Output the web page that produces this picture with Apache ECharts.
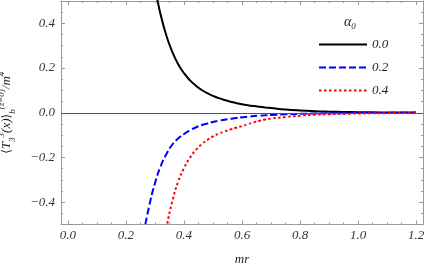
<!DOCTYPE html>
<html><head><meta charset="utf-8">
<script src="https://cdn.jsdelivr.net/npm/echarts@6/dist/echarts.min.js"></script>
<style>html,body{margin:0;padding:0;background:#fff}#c{width:427px;height:268px}</style>
</head><body><div id="c"></div>
<script>
// x positions (mr) and values
const xBlack = [0.28,0.30,0.32,0.34,0.36,0.38,0.40,0.42,0.44,0.46,0.48,0.50,0.52,0.54,0.56,0.58,0.60,0.62,0.64,0.66,0.68,0.70,0.75,0.80,0.85,0.90,0.95,1.0,1.05,1.1,1.15,1.2];
const yBlack = [0.73,0.561,0.436,0.342,0.271,0.217,0.177,0.146,0.122,0.103,0.0879,0.0755,0.0652,0.0567,0.0495,0.0434,0.0381,0.0337,0.0299,0.0266,0.0237,0.0211,0.0145,0.0100,0.0070,0.0050,0.0035,0.0025,0.0018,0.0013,0.0009,0.0007];
const xBlue = [0.24,0.26,0.28,0.30,0.32,0.34,0.36,0.38,0.40,0.42,0.44,0.46,0.48,0.50,0.52,0.54,0.56,0.58,0.60,0.62,0.64,0.66,0.68,0.70,0.75,0.80,0.85,0.90,0.95,1.0,1.05,1.1,1.15,1.2];
const yBlue = [-0.72,-0.55,-0.418,-0.315,-0.238,-0.183,-0.142,-0.115,-0.095,-0.079,-0.066,-0.056,-0.048,-0.041,-0.036,-0.031,-0.027,-0.023,-0.020,-0.0175,-0.015,-0.013,-0.0115,-0.010,-0.007,-0.005,-0.0035,-0.0025,-0.0018,-0.0012,-0.0009,-0.0006,-0.0004,-0.0003];
const xRed = [0.30,0.32,0.34,0.36,0.38,0.40,0.42,0.44,0.46,0.48,0.50,0.52,0.54,0.56,0.58,0.60,0.62,0.64,0.66,0.68,0.70,0.75,0.80,0.85,0.90,0.95,1.0,1.05,1.1,1.15,1.2];
const yRed = [-0.85,-0.662,-0.512,-0.395,-0.308,-0.248,-0.202,-0.168,-0.142,-0.122,-0.106,-0.094,-0.084,-0.075,-0.067,-0.060,-0.052,-0.043,-0.036,-0.030,-0.026,-0.019,-0.013,-0.009,-0.0065,-0.0047,-0.0033,-0.0024,-0.0017,-0.0012,-0.0009];
const seriesNames = ['0.0','0.2','0.4'];
const xMajor = [0,0.2,0.4,0.6,0.8,1.0,1.2];
const xMinor = [0.05,0.1,0.15,0.25,0.3,0.35,0.45,0.5,0.55,0.65,0.7,0.75,0.85,0.9,0.95,1.05,1.1,1.15];
const yMajor = [-0.4,-0.2,0,0.2,0.4];
const yMinor = [-0.5,-0.45,-0.35,-0.3,-0.25,-0.15,-0.1,-0.05,0.05,0.1,0.15,0.25,0.3,0.35,0.45,0.5];

const XMIN=-0.024, XMAX=1.224, YMIN=-0.5, YMAX=0.5;
const frame = '#999';
const font = 'Liberation Serif';
const zip = (a,b)=>a.map((v,i)=>[v,b[i]]);

function xAx(pos, vals, len, labels, line){
  return {type:'value', position:pos, min:XMIN, max:XMAX,
    axisLine:{show:line, onZero:false, lineStyle:{color:frame,width:1}},
    axisTick:{show:true, inside:true, length:len, customValues:vals, lineStyle:{color:frame}},
    axisLabel:{show:labels, customValues:xMajor, margin:5, color:'#333', fontFamily:font, fontStyle:'italic', fontSize:13,
      formatter:v=>v.toFixed(1)},
    splitLine:{show:false}};
}
function yAx(pos, vals, len, labels, line){
  return {type:'value', position:pos, min:YMIN, max:YMAX,
    axisLine:{show:line, onZero:false, lineStyle:{color:frame,width:1}},
    axisTick:{show:true, inside:true, length:len, customValues:vals, lineStyle:{color:frame}},
    axisLabel:{show:labels, customValues:yMajor, margin:6, color:'#333', fontFamily:font, fontStyle:'italic', fontSize:13,
      formatter:v=>(v<0?'\u2212':'')+Math.abs(v).toFixed(1)},
    splitLine:{show:false}};
}
const xs=[xAx('bottom',xMajor,4,true,true),xAx('bottom',xMinor,2,false,false),xAx('top',xMajor,4,false,true),xAx('top',xMinor,2,false,false)];
xs[0].name='mr'; xs[0].nameLocation='middle'; xs[0].nameGap=29;
xs[0].nameTextStyle={fontFamily:font,fontStyle:'italic',fontSize:13,color:'#222'};
const ys=[yAx('left',yMajor,4,true,true),yAx('left',yMinor,2,false,false),yAx('right',yMajor,4,false,true),yAx('right',yMinor,2,false,false)];
ys[0].name='{g|\u27E8}{t|T}{s|3}{p|3}{t|(x)}{g|\u27E9}{s|b}{p|(z=0)}{t|/m}{p|4}';
ys[0].nameLocation='middle'; ys[0].nameGap=44; ys[0].nameRotate=90;
const base={fontFamily:font,fontStyle:'italic',fontSize:13,color:'#222',lineHeight:20};
ys[0].nameTextStyle=Object.assign({},base,{
  rich:{t:Object.assign({},base,{verticalAlign:'middle'}),
        g:Object.assign({},base,{fontFamily:'DejaVu Serif',fontStyle:'normal',fontSize:12,verticalAlign:'middle'}),
        s:Object.assign({},base,{fontSize:9,verticalAlign:'bottom'}),
        p:Object.assign({},base,{fontSize:9,verticalAlign:'top'})}});

const chart = echarts.init(document.getElementById('c'),null,{renderer:'canvas'});
chart.setOption({
  animation:false,
  grid:{left:61,right:4,top:1,bottom:43.5,containLabel:false,outerBoundsMode:'none'},
  xAxis:xs, yAxis:ys,
  legend:{orient:'vertical',left:313,top:33,itemWidth:48,itemHeight:14,itemGap:10,
    itemStyle:{color:'transparent',opacity:0,borderWidth:0},
    textStyle:{fontFamily:font,fontStyle:'italic',fontSize:13,color:'#222'},
    data:seriesNames},
  graphic:[{type:'text',left:344,top:15,style:{text:'{a|\u03B1}{b|0}',
    rich:{a:{fontFamily:font,fontStyle:'italic',fontSize:14,fill:'#222',lineHeight:18,verticalAlign:'middle'},
          b:{fontFamily:font,fontStyle:'italic',fontSize:9,fill:'#222',lineHeight:18,verticalAlign:'bottom'}}}}],
  series:[
    {name:seriesNames[0],type:'line',smooth:true,symbol:'none',showSymbol:false,data:zip(xBlack,yBlack),
     lineStyle:{color:'#000',width:2},itemStyle:{color:'#000'},
     markLine:{silent:true,symbol:'none',label:{show:false},lineStyle:{color:'#555',width:1,type:'solid'},data:[{yAxis:0}]}},
    {name:seriesNames[1],type:'line',smooth:true,symbol:'none',showSymbol:false,data:zip(xBlue,yBlue),
     lineStyle:{color:'#0000ff',width:2,type:[7,3]},itemStyle:{color:'#0000ff'}},
    {name:seriesNames[2],type:'line',smooth:true,symbol:'none',showSymbol:false,data:zip(xRed,yRed),
     lineStyle:{color:'#ff0000',width:2,type:[2.5,2.5]},itemStyle:{color:'#ff0000'}}
  ]
});
</script></body></html>
